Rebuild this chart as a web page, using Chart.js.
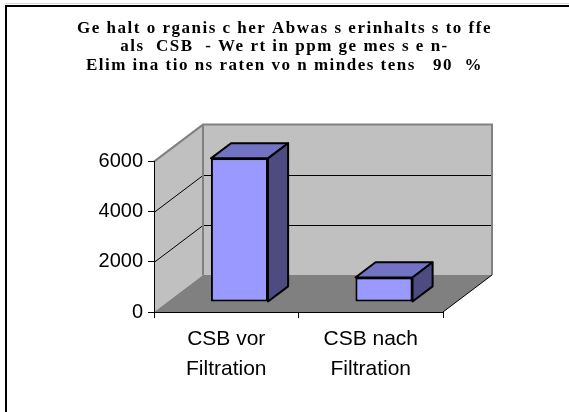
<!DOCTYPE html>
<html>
<head>
<meta charset="utf-8">
<script src="https://cdn.jsdelivr.net/npm/chart.js@4.4.1/dist/chart.umd.min.js"></script>
<style>
  html, body { margin: 0; padding: 0; background: #fff; }
  #wrap { width: 569px; height: 412px; }
</style>
</head>
<body>
<div id="wrap"><canvas id="grafico" width="569" height="412"></canvas></div>
<script>
// Datos
const categorias = [['CSB vor', 'Filtration'], ['CSB nach', 'Filtration']];
const valoresCSB = [5730, 980];
const ticksY = [0, 2000, 4000, 6000];
const tituloLineas = [
  'Ge halt o rganis c her Abwas s erinhalts s to ffe',
  'als  CSB  - We rt in ppm ge mes s e n-',
  'Elim ina tio ns raten vo n mindes tens   90  %'
];

// profundidad del "3D" (pixeles)
const PROF = { dx: 49, dy: -37, barraIni: 0.27, barraFin: 0.68 };

const fondo3D = {
  id: 'fondo3D',
  afterInit(chart) {
    // espaciado de letras solo para el titulo
    const tb = chart.titleBlock;
    if (!tb) return;
    const orig = tb.draw;
    tb.draw = function () {
      const ctx = chart.ctx;
      ctx.save();
      ctx.letterSpacing = '1.5px';
      orig.call(this);
      ctx.restore();
    };
  },
  beforeDraw(chart) {
    const ctx = chart.ctx;
    const { left, right, top, bottom } = chart.chartArea;
    const y = chart.scales.y;
    const dx = PROF.dx, dy = PROF.dy;
    ctx.save();
    // pared trasera
    ctx.fillStyle = '#C0C0C0';
    ctx.fillRect(left + dx, top + dy, right - left, bottom - top);
    // pared izquierda
    ctx.beginPath();
    ctx.moveTo(left, top);
    ctx.lineTo(left + dx, top + dy);
    ctx.lineTo(left + dx, bottom + dy);
    ctx.lineTo(left, bottom);
    ctx.closePath();
    ctx.fill();
    // piso
    ctx.fillStyle = '#808080';
    ctx.beginPath();
    ctx.moveTo(left, bottom);
    ctx.lineTo(right, bottom);
    ctx.lineTo(right + dx, bottom + dy);
    ctx.lineTo(left + dx, bottom + dy);
    ctx.closePath();
    ctx.fill();
    // lineas de cuadricula
    ctx.strokeStyle = '#000';
    ctx.lineWidth = 1;
    ticksY.forEach(v => {
      if (v === 0 || v === ticksY[ticksY.length - 1]) return;
      const py = Math.round(y.getPixelForValue(v)) + 0.5;
      ctx.beginPath();
      ctx.moveTo(left, py);
      ctx.lineTo(left + dx, py + dy);
      ctx.lineTo(right + dx, py + dy);
      ctx.stroke();
    });
    // bordes grises de las paredes
    ctx.strokeStyle = '#808080';
    ctx.lineWidth = 2;
    ctx.beginPath();
    ctx.moveTo(left, top);
    ctx.lineTo(left + dx, top + dy);
    ctx.lineTo(right + dx, top + dy);
    ctx.lineTo(right + dx, bottom + dy);
    ctx.moveTo(left + dx, top + dy);
    ctx.lineTo(left + dx, bottom + dy);
    ctx.stroke();
    // borde derecho del piso
    ctx.strokeStyle = '#000';
    ctx.lineWidth = 1;
    ctx.beginPath();
    ctx.moveTo(right, bottom);
    ctx.lineTo(right + dx, bottom + dy);
    ctx.stroke();
    ctx.restore();
  },
  beforeDatasetsDraw(chart) {
    chart.ctx.save();
    chart.ctx.translate(PROF.dx * PROF.barraIni, PROF.dy * PROF.barraIni);
  },
  afterDatasetsDraw(chart) {
    const ctx = chart.ctx;
    const bdx = PROF.dx * (PROF.barraFin - PROF.barraIni);
    const bdy = PROF.dy * (PROF.barraFin - PROF.barraIni);
    chart.getDatasetMeta(0).data.forEach(bar => {
      const x0 = bar.x - bar.width / 2, x1 = bar.x + bar.width / 2;
      const yt = bar.y, yb = bar.base;
      ctx.lineWidth = 2;
      ctx.strokeStyle = '#000';
      ctx.lineJoin = 'round';
      // cara superior
      ctx.fillStyle = '#7373C6';
      ctx.beginPath();
      ctx.moveTo(x0, yt);
      ctx.lineTo(x1, yt);
      ctx.lineTo(x1 + bdx, yt + bdy);
      ctx.lineTo(x0 + bdx, yt + bdy);
      ctx.closePath();
      ctx.fill();
      ctx.stroke();
      // cara lateral
      ctx.fillStyle = '#4C4C80';
      ctx.beginPath();
      ctx.moveTo(x1, yt);
      ctx.lineTo(x1 + bdx, yt + bdy);
      ctx.lineTo(x1 + bdx, yb + bdy);
      ctx.lineTo(x1, yb);
      ctx.closePath();
      ctx.fill();
      ctx.stroke();
    });
    ctx.restore();
  },
  afterDraw(chart) {
    const ctx = chart.ctx;
    ctx.save();
    ctx.fillStyle = '#D8D8D8';
    ctx.fillRect(5, 3, 564, 1);
    ctx.fillStyle = '#000';
    ctx.fillRect(5, 5, 564, 2);
    ctx.fillRect(5, 5, 2, 407);
    ctx.restore();
  }
};

new Chart(document.getElementById('grafico'), {
  type: 'bar',
  data: {
    labels: categorias,
    datasets: [{
      data: valoresCSB,
      backgroundColor: '#9999FF',
      borderColor: '#000',
      borderWidth: 2,
      borderSkipped: false,
      categoryPercentage: 1,
      barPercentage: 0.395,
      clip: false
    }]
  },
  options: {
    responsive: false,
    animation: false,
    events: [],
    layout: { padding: 0 },
    plugins: {
      legend: { display: false },
      tooltip: { enabled: false },
      title: {
        display: true,
        text: tituloLineas,
        color: '#000',
        font: { family: 'Liberation Serif', size: 17, weight: 'bold', lineHeight: 1.09 },
        padding: { top: 19, bottom: 87 }
      }
    },
    scales: {
      x: {
        grid: { offset: true, drawOnChartArea: false, tickLength: 6, color: '#000', lineWidth: 1 },
        border: { display: true, color: '#000', width: 1 },
        ticks: {
          color: '#000',
          maxRotation: 0,
          autoSkip: false,
          padding: 6,
          font: { family: 'Liberation Sans', size: 21, lineHeight: 1.43 }
        },
        afterFit(scale) { scale.height = 100; }
      },
      y: {
        min: 0,
        max: 6000,
        afterBuildTicks(scale) { scale.ticks = ticksY.map(v => ({ value: v })); },
        grid: { drawOnChartArea: false, tickLength: 6, color: '#000', lineWidth: 1 },
        border: { display: true, color: '#000', width: 1 },
        ticks: {
          color: '#000',
          padding: 5,
          font: { family: 'Liberation Sans', size: 20 },
          callback: v => String(v)
        },
        afterFit(scale) { scale.width = 154; }
      },
      // eje vacio a la derecha para dejar el espacio del fondo 3D
      margen: {
        position: 'right',
        display: true,
        grid: { display: false },
        border: { display: false },
        ticks: { display: false },
        afterFit(scale) { scale.width = 126; }
      }
    }
  },
  plugins: [fondo3D]
});
</script>
</body>
</html>
